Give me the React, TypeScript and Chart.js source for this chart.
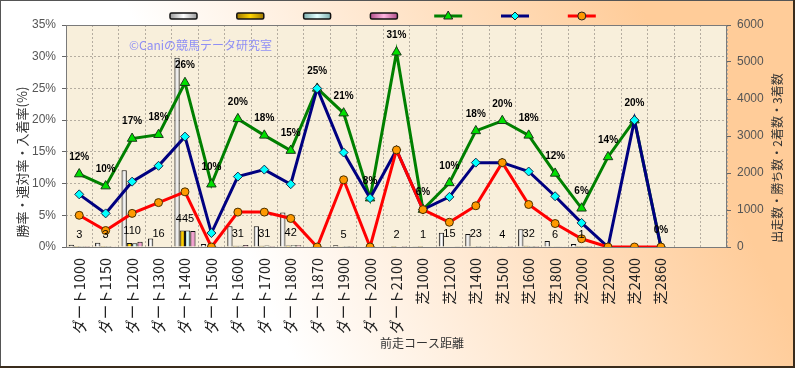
import React, { useEffect, useRef } from 'react';
import { Chart, registerables } from 'chart.js';

Chart.register(...registerables);

const categories = [
  'ダート1000', 'ダート1150', 'ダート1200', 'ダート1300', 'ダート1400', 'ダート1500',
  'ダート1600', 'ダート1700', 'ダート1800', 'ダート1870', 'ダート1900', 'ダート2000',
  'ダート2100', '芝1000', '芝1200', '芝1400', '芝1500', '芝1600', '芝1800', '芝2000',
  '芝2200', '芝2400', '芝2860', '', '',
];

// rates (%)
const winRate = [5.0, 2.6, 5.3, 7.0, 8.7, 0, 5.5, 5.5, 4.5, 0, 10.6, 0, 15.3, 5.9, 3.9, 6.5, 13.3, 6.7, 3.7, 1.3, 0, 0, 0, null, null];
const top2Rate = [8.3, 5.3, 10.3, 12.8, 17.4, 2.2, 11.1, 12.2, 9.9, 25.0, 14.9, 7.7, 15.3, 5.9, 7.9, 13.3, 13.3, 11.9, 8.0, 3.8, 0, 20.0, 0, null, null];
const top3Rate = [11.5, 9.6, 17.1, 17.7, 25.9, 9.9, 20.2, 17.6, 15.2, 25.0, 21.1, 7.7, 30.7, 5.9, 10.1, 18.3, 19.9, 17.6, 11.6, 6.1, 14.2, 20.0, 0, null, null];

// counts
const runs = [60, 115, 2075, 229, 5115, 82, 564, 564, 933, 4, 47, 13, 13, 17, 385, 354, 30, 478, 162, 79, 7, 5, 3, null, null];
const wins = [3, 3, 110, 16, 445, 0, 31, 31, 42, 0, 5, 0, 2, 1, 15, 23, 4, 32, 6, 1, 0, 0, 0, null, null];
const seconds = [2, 3, 104, 13, 445, 2, 32, 38, 50, 1, 2, 1, 0, 0, 15, 24, 0, 25, 7, 2, 0, 1, 0, null, null];
const thirds = [2, 5, 141, 11, 435, 6, 51, 29, 49, 0, 3, 0, 2, 0, 9, 18, 2, 27, 6, 2, 1, 0, 0, null, null];

const leftTicks = [0, 5, 10, 15, 20, 25, 30, 35];
const rightTicks = [0, 1000, 2000, 3000, 4000, 5000, 6000];

const W = 795;
const H = 368;
const JP = '"Noto Sans CJK JP", "Noto Sans", sans-serif';
const LAT = '"Liberation Sans", Arial, sans-serif';

const barStyles = [
  { edge: '#9a9a9a', mid: '#ffffff' },
  { edge: '#a07800', mid: '#ffd400' },
  { edge: '#7fb0b0', mid: '#e4ffff' },
  { edge: '#b0508a', mid: '#ffb4e0' },
];
const CAT_PCT = 0.8;

function barGradient(k: number) {
  return (ctx: any) => {
    const chart = ctx.chart;
    const xs = chart.scales && chart.scales.x;
    const st = barStyles[k];
    if (!xs || ctx.dataIndex == null || !chart.chartArea) return st.mid;
    const catW = xs.width / categories.length;
    const bw = (catW * CAT_PCT) / 4;
    const c = xs.getPixelForValue(ctx.dataIndex) + (k - 1.5) * bw;
    const g = chart.ctx.createLinearGradient(c - bw / 2, 0, c + bw / 2, 0);
    g.addColorStop(0, st.edge);
    g.addColorStop(0.5, st.mid);
    g.addColorStop(1, st.edge);
    return g;
  };
}

const bgPlugin = {
  id: 'bgPlugin',
  beforeDraw(chart: any) {
    const { ctx, chartArea: a } = chart;
    ctx.save();
    const g = ctx.createLinearGradient(280, 330, 700, 130);
    g.addColorStop(0, '#ffffff');
    g.addColorStop(1, '#ffcc99');
    ctx.fillStyle = g;
    ctx.fillRect(0, 0, W, H);
    ctx.strokeStyle = '#555555';
    ctx.lineWidth = 1;
    ctx.strokeRect(0.5, 0.5, W - 2, H - 2);
    ctx.fillStyle = '#3a2c1c';
    ctx.fillRect(W - 2, 0, 2, H);
    ctx.fillRect(0, H - 2, W, 2);
    ctx.fillStyle = '#f8efdb';
    ctx.fillRect(a.left, a.top, a.right - a.left, a.bottom - a.top);
    ctx.restore();
  },
  beforeDatasetsDraw(chart: any) {
    const { ctx, chartArea: a } = chart;
    ctx.save();
    ctx.strokeStyle = '#7a7a7a';
    ctx.lineWidth = 1;
    ctx.strokeRect(a.left + 0.5, a.top + 0.5, a.right - a.left - 1, a.bottom - a.top);
    ctx.fillStyle = '#8f8ff5';
    ctx.font = `12px ${JP}`;
    ctx.textBaseline = 'middle';
    ctx.textAlign = 'left';
    ctx.fillText('©Caniの競馬データ研究室', 129, 45);
    ctx.restore();
  },
  afterDatasetsDraw(chart: any) {
    const { ctx } = chart;
    const xs = chart.scales.x;
    const y1 = chart.scales.y1;
    ctx.save();
    ctx.fillStyle = '#000000';
    ctx.textAlign = 'center';
    ctx.textBaseline = 'middle';
    // win count labels
    ctx.font = `11px ${LAT}`;
    wins.forEach((v, i) => {
      if (v == null || v === 0) return;
      ctx.fillText(String(v), xs.getPixelForValue(i), y1.getPixelForValue(v) - 12);
    });
    // top3 rate labels
    const meta = chart.getDatasetMeta(4);
    ctx.font = `bold 10px ${LAT}`;
    top3Rate.forEach((v, i) => {
      if (v == null) return;
      const pt = meta.data[i];
      ctx.fillText(`${Math.round(v)}%`, pt.x, pt.y - 17);
    });
    ctx.restore();
  },
  afterDraw(chart: any) {
    const { ctx } = chart;
    ctx.save();
    ctx.fillStyle = '#333333';
    ctx.font = `12px ${JP}`;
    ctx.textAlign = 'center';
    ctx.textBaseline = 'middle';
    ctx.fillText('前走コース距離', 422, 343);
    ctx.font = `13px ${JP}`;
    ctx.save();
    ctx.translate(22, 162);
    ctx.rotate(-Math.PI / 2);
    ctx.fillText('勝率・連対率・入着率(%)', 0, 0);
    ctx.restore();
    ctx.font = `12px ${JP}`;
    ctx.save();
    ctx.translate(777, 158);
    ctx.rotate(-Math.PI / 2);
    ctx.fillText('出走数・勝ち数・2着数・3着数', 0, 0);
    ctx.restore();

    // legend
    const x0 = 170;
    const step = 66.8;
    const ly = 16;
    for (let k = 0; k < 4; k++) {
      const x = x0 + k * step;
      const g = ctx.createLinearGradient(x, 0, x + 27, 0);
      g.addColorStop(0, barStyles[k].edge);
      g.addColorStop(0.5, barStyles[k].mid);
      g.addColorStop(1, barStyles[k].edge);
      ctx.fillStyle = g;
      ctx.strokeStyle = '#111111';
      ctx.lineWidth = 1.5;
      ctx.beginPath();
      ctx.roundRect(x, ly - 3, 27, 6, 1.5);
      ctx.fill();
      ctx.stroke();
    }
    const lineItems = [
      { color: '#008000', fill: '#00e000', style: 'triangle' },
      { color: '#000080', fill: '#00ffff', style: 'rectRot' },
      { color: '#ff0000', fill: '#ff9900', style: 'circle' },
    ];
    lineItems.forEach((it, j) => {
      const x = x0 + (4 + j) * step - 3;
      ctx.strokeStyle = it.color;
      ctx.lineWidth = 3;
      ctx.beginPath();
      ctx.moveTo(x, ly);
      ctx.lineTo(x + 28, ly);
      ctx.stroke();
      ctx.fillStyle = it.fill;
      ctx.strokeStyle = '#222222';
      ctx.lineWidth = 1;
      const cx = x + 14;
      ctx.beginPath();
      if (it.style === 'triangle') {
        ctx.moveTo(cx, ly - 5);
        ctx.lineTo(cx + 4.5, ly + 3);
        ctx.lineTo(cx - 4.5, ly + 3);
        ctx.closePath();
      } else if (it.style === 'rectRot') {
        ctx.moveTo(cx, ly - 4);
        ctx.lineTo(cx + 4, ly);
        ctx.lineTo(cx, ly + 4);
        ctx.lineTo(cx - 4, ly);
        ctx.closePath();
      } else {
        ctx.arc(cx, ly, 4, 0, Math.PI * 2);
      }
      ctx.fill();
      ctx.stroke();
    });
    ctx.restore();
  },
};

export default function App() {
  const ref = useRef<HTMLCanvasElement | null>(null);

  useEffect(() => {
    const canvas = ref.current;
    if (!canvas) return;
    const barDs = [runs, wins, seconds, thirds].map((d, k) => ({
      type: 'bar' as const,
      label: ['出走数', '勝ち数', '2着数', '3着数'][k],
      data: d,
      yAxisID: 'y1',
      backgroundColor: barGradient(k),
      borderColor: '#111111',
      borderWidth: 1,
      barPercentage: 1,
      categoryPercentage: CAT_PCT,
      order: 10,
    }));
    const chart = new Chart(canvas, {
      type: 'bar',
      data: {
        labels: categories,
        datasets: [
          ...barDs,
          {
            type: 'line',
            label: '入着率',
            data: top3Rate,
            yAxisID: 'y',
            borderColor: '#008000',
            borderWidth: 3,
            pointStyle: 'triangle',
            pointRadius: 5.5,
            pointBackgroundColor: '#00e000',
            pointBorderColor: '#1a3a1a',
            pointBorderWidth: 1,
            tension: 0,
            order: 3,
          },
          {
            type: 'line',
            label: '連対率',
            data: top2Rate,
            yAxisID: 'y',
            borderColor: '#000080',
            borderWidth: 3,
            pointStyle: 'rectRot',
            pointRadius: 4.5,
            pointBackgroundColor: '#00ffff',
            pointBorderColor: '#1a2a4a',
            pointBorderWidth: 1,
            tension: 0,
            order: 2,
          },
          {
            type: 'line',
            label: '勝率',
            data: winRate,
            yAxisID: 'y',
            borderColor: '#ff0000',
            borderWidth: 3,
            pointStyle: 'circle',
            pointRadius: 4,
            pointBackgroundColor: '#ff9900',
            pointBorderColor: '#4a3000',
            pointBorderWidth: 1,
            tension: 0,
            order: 1,
          },
        ] as any,
      },
      options: {
        responsive: false,
        animation: false,
        devicePixelRatio: 1,
        layout: { padding: { top: 25, left: 0, right: 0, bottom: 0 } },
        plugins: {
          legend: { display: false },
          tooltip: { enabled: false },
          title: { display: false },
        },
        scales: {
          x: {
            type: 'category',
            offset: true,
            grid: {
              display: true,
              offset: true,
              color: '#b5ada0',
              drawTicks: false,
            },
            border: { display: false, dash: [2, 2] },
            ticks: {
              autoSkip: false,
              minRotation: 90,
              maxRotation: 90,
              padding: 11,
              color: '#222222',
              font: { family: JP, size: 14.5 },
            },
            afterFit: (s: any) => {
              s.height = H - 247;
            },
          },
          y: {
            position: 'left',
            min: 0,
            max: 35,
            afterBuildTicks: (s: any) => {
              s.ticks = leftTicks.map((v) => ({ value: v }));
            },
            grid: {
              color: '#b5ada0',
              tickColor: '#666666',
              tickLength: 4,
              drawTicks: true,
            },
            border: { display: false, dash: [2, 2] },
            ticks: {
              padding: 6,
              color: '#555555',
              font: { family: LAT, size: 12 },
              callback: (v: any) => `${v}%`,
            },
            afterFit: (s: any) => {
              s.width = 66;
            },
          },
          y1: {
            position: 'right',
            min: 0,
            max: 6000,
            afterBuildTicks: (s: any) => {
              s.ticks = rightTicks.map((v) => ({ value: v }));
            },
            grid: {
              drawOnChartArea: false,
              tickColor: '#666666',
              tickLength: 4,
              drawTicks: true,
            },
            border: { display: false },
            ticks: {
              padding: 6,
              color: '#555555',
              font: { family: LAT, size: 12 },
              callback: (v: any) => String(v),
            },
            afterFit: (s: any) => {
              s.width = W - 727;
            },
          },
        },
      } as any,
      plugins: [bgPlugin],
    });
    return () => chart.destroy();
  }, []);

  return (
    <div style={{ position: 'fixed', left: 0, top: 0, width: W, height: H }}>
      <canvas ref={ref} width={W} height={H} style={{ display: 'block', width: W, height: H }} />
    </div>
  );
}
